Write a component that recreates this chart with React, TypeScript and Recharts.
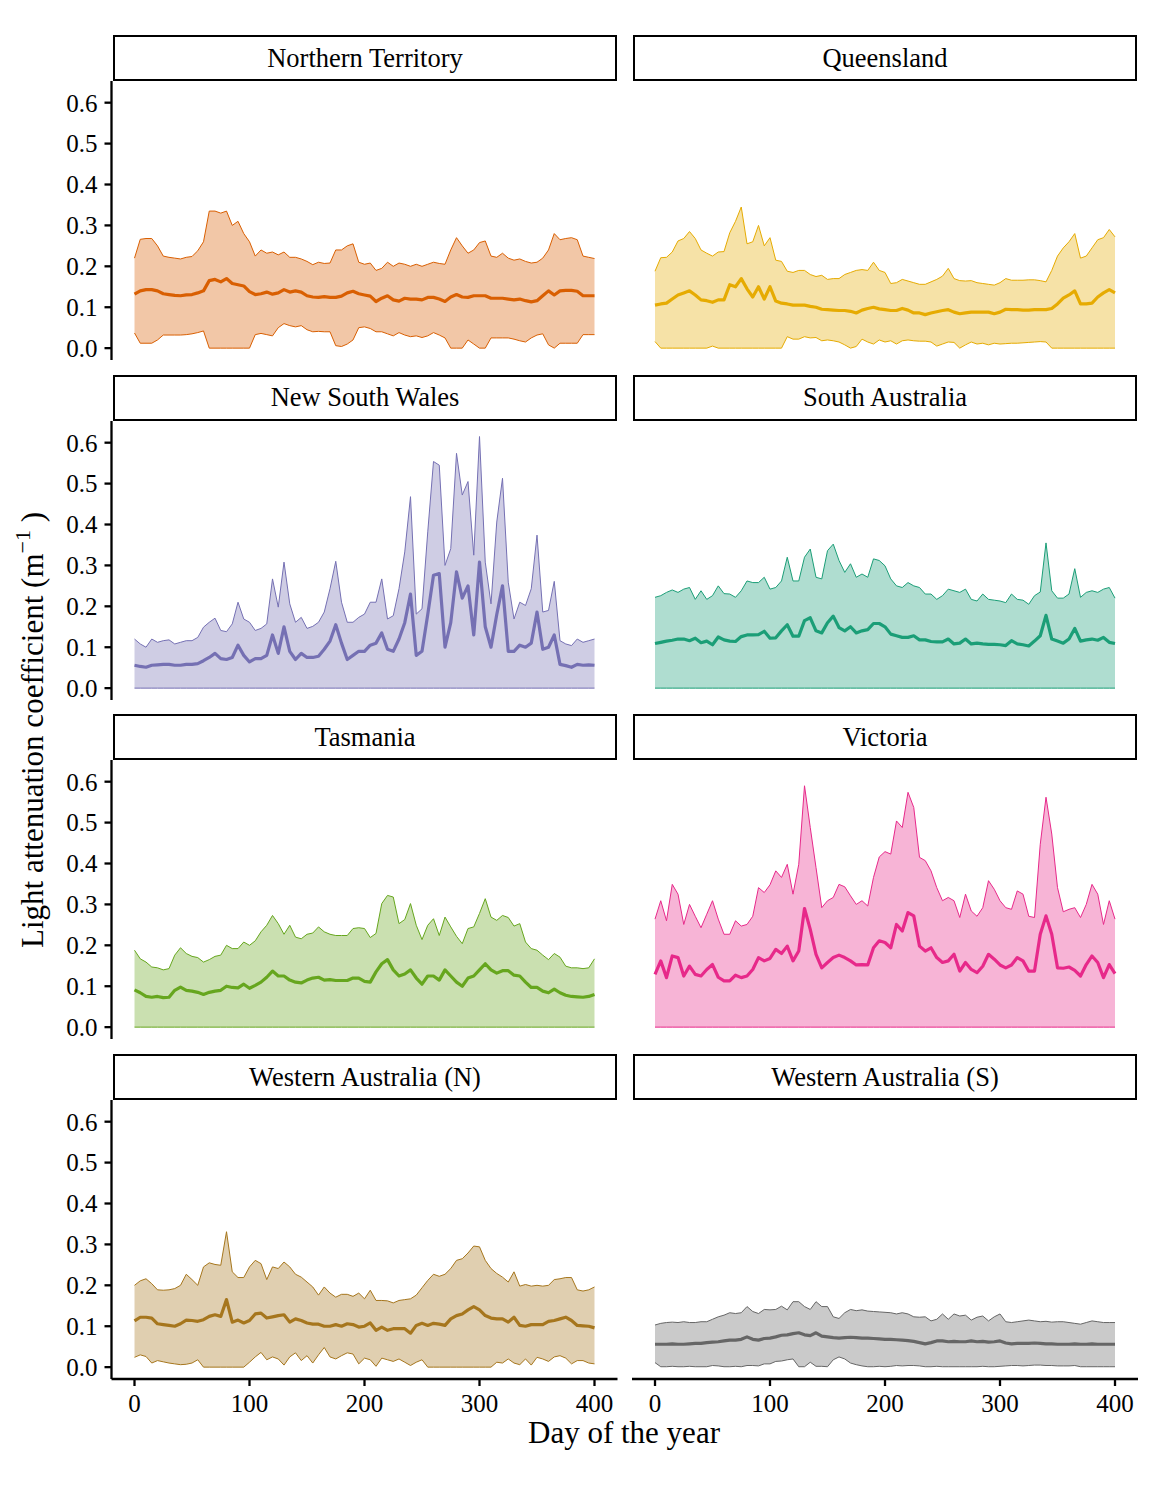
import React from 'react';
import { ComposedChart, Area, Line, XAxis, YAxis } from 'recharts';

const FONT = '"Liberation Serif", "Times New Roman", Times, serif';

// ---------------- data ----------------
const DAYS = [
  0, 5, 10, 15, 20, 25, 30, 35, 40, 45,
  50, 55, 60, 65, 70, 75, 80, 85, 90, 95,
  100, 105, 110, 115, 120, 125, 130, 135, 140, 145,
  150, 155, 160, 165, 170, 175, 180, 185, 190, 195,
  200, 205, 210, 215, 220, 225, 230, 235, 240, 245,
  250, 255, 260, 265, 270, 275, 280, 285, 290, 295,
  300, 305, 310, 315, 320, 325, 330, 335, 340, 345,
  350, 355, 360, 365, 370, 375, 380, 385, 390, 395,
  400,
];

const REGIONS = [
  'Northern Territory', 'Queensland', 'New South Wales', 'South Australia',
  'Tasmania', 'Victoria', 'Western Australia (N)', 'Western Australia (S)',
];
const COLORS = ['#D95F02', '#E6AB02', '#7570B3', '#1B9E77', '#66A61E', '#E7298A', '#A6761D', '#666666'];
const Y_TICKS = [0, 0.1, 0.2, 0.3, 0.4, 0.5, 0.6];
const X_TICKS = [0, 100, 200, 300, 400];

const ZERO_LOW = [
  0, 0, 0, 0, 0, 0, 0, 0, 0, 0,
  0, 0, 0, 0, 0, 0, 0, 0, 0, 0,
  0, 0, 0, 0, 0, 0, 0, 0, 0, 0,
  0, 0, 0, 0, 0, 0, 0, 0, 0, 0,
  0, 0, 0, 0, 0, 0, 0, 0, 0, 0,
  0, 0, 0, 0, 0, 0, 0, 0, 0, 0,
  0, 0, 0, 0, 0, 0, 0, 0, 0, 0,
  0, 0, 0, 0, 0, 0, 0, 0, 0, 0,
  0,
];

// Northern Territory
const NT_HIGH = [
  0.22, 0.266, 0.268, 0.268, 0.25, 0.225, 0.222, 0.22, 0.218, 0.222,
  0.224, 0.238, 0.26, 0.335, 0.335, 0.33, 0.335, 0.3, 0.31, 0.28,
  0.26, 0.225, 0.24, 0.232, 0.235, 0.228, 0.235, 0.222, 0.222, 0.218,
  0.212, 0.204, 0.21, 0.207, 0.208, 0.24, 0.24, 0.25, 0.255, 0.21,
  0.205, 0.208, 0.19, 0.195, 0.21, 0.2, 0.208, 0.205, 0.2, 0.205,
  0.2, 0.205, 0.21, 0.207, 0.205, 0.24, 0.27, 0.25, 0.232, 0.24,
  0.258, 0.262, 0.225, 0.222, 0.232, 0.22, 0.215, 0.218, 0.212, 0.208,
  0.21, 0.22, 0.24, 0.28, 0.265, 0.268, 0.27, 0.265, 0.225, 0.222,
  0.219,
];
const NT_MEAN = [
  0.132, 0.14, 0.143, 0.143, 0.14, 0.133, 0.131, 0.129, 0.128, 0.13,
  0.131, 0.135, 0.14, 0.165, 0.168, 0.162, 0.17, 0.158, 0.155, 0.152,
  0.138, 0.131, 0.133, 0.137, 0.132, 0.135, 0.143, 0.137, 0.14, 0.137,
  0.128, 0.125, 0.124, 0.126, 0.124, 0.124, 0.127, 0.135, 0.139, 0.133,
  0.13, 0.127, 0.114, 0.122, 0.128, 0.118, 0.115, 0.122, 0.12, 0.12,
  0.118, 0.124, 0.124, 0.12, 0.114, 0.125, 0.131, 0.125, 0.124, 0.128,
  0.128, 0.128, 0.122, 0.122, 0.122, 0.12, 0.118, 0.12, 0.116, 0.113,
  0.116, 0.128, 0.14, 0.13, 0.14, 0.141, 0.141, 0.139, 0.128, 0.128,
  0.128,
];
const NT_LOW = [
  0.037, 0.012, 0.012, 0.012, 0.02, 0.032, 0.032, 0.032, 0.032, 0.033,
  0.035, 0.038, 0.042, 0, 0, 0, 0, 0, 0, 0,
  0, 0.033, 0.036, 0.033, 0.03, 0.05, 0.06, 0.055, 0.052, 0.055,
  0.045, 0.04, 0.041, 0.04, 0.04, 0.006, 0.004, 0.01, 0.02, 0.05,
  0.052, 0.048, 0.04, 0.04, 0.035, 0.03, 0.038, 0.032, 0.028, 0.03,
  0.026, 0.03, 0.038, 0.032, 0.025, 0, 0, 0, 0.02, 0.01,
  0, 0, 0.025, 0.025, 0.025, 0.025, 0.022, 0.018, 0.015, 0.025,
  0.032, 0.035, 0.008, 0, 0.012, 0.012, 0.012, 0.012, 0.033, 0.033,
  0.033,
];

// Queensland
const QLD_HIGH = [
  0.188, 0.221, 0.222, 0.235, 0.262, 0.268, 0.285, 0.268, 0.24, 0.232,
  0.225, 0.235, 0.236, 0.282, 0.31, 0.345, 0.255, 0.26, 0.3, 0.25,
  0.27, 0.215, 0.212, 0.188, 0.185, 0.19, 0.19, 0.18, 0.175, 0.178,
  0.168, 0.17, 0.17, 0.18, 0.185, 0.19, 0.192, 0.19, 0.21, 0.19,
  0.185, 0.158, 0.16, 0.168, 0.164, 0.16, 0.156, 0.156, 0.162, 0.168,
  0.176, 0.195, 0.17, 0.165, 0.164, 0.165, 0.16, 0.158, 0.156, 0.154,
  0.16, 0.17, 0.166, 0.166, 0.166, 0.167, 0.167, 0.165, 0.162, 0.19,
  0.225, 0.245, 0.26, 0.28, 0.22, 0.225, 0.245, 0.265, 0.27, 0.29,
  0.272,
];
const QLD_MEAN = [
  0.105, 0.108, 0.11, 0.12, 0.13, 0.135, 0.14, 0.13, 0.118, 0.116,
  0.112, 0.118, 0.118, 0.155, 0.15, 0.17, 0.145, 0.125, 0.15, 0.12,
  0.15, 0.115, 0.11, 0.108, 0.105, 0.105, 0.105, 0.102, 0.1, 0.095,
  0.094, 0.093, 0.092, 0.092, 0.09, 0.086, 0.093, 0.097, 0.1, 0.096,
  0.094, 0.092, 0.092, 0.097, 0.093, 0.086, 0.086, 0.082, 0.086, 0.089,
  0.092, 0.094, 0.088, 0.084, 0.086, 0.088, 0.088, 0.088, 0.088, 0.084,
  0.088, 0.095, 0.094, 0.094, 0.093, 0.093, 0.094, 0.094, 0.094, 0.097,
  0.108, 0.122, 0.13, 0.14, 0.108, 0.108, 0.11, 0.125, 0.135, 0.143,
  0.135,
];
const QLD_LOW = [
  0.016, 0, 0, 0, 0, 0, 0, 0, 0, 0,
  0.005, 0, 0, 0, 0, 0, 0, 0, 0, 0,
  0, 0, 0, 0.028, 0.022, 0.022, 0.028, 0.025, 0.026, 0.018,
  0.02, 0.018, 0.015, 0.008, 0, 0.004, 0.022, 0.015, 0.01, 0.02,
  0.015, 0.018, 0.01, 0.018, 0.02, 0.018, 0.017, 0.017, 0.015, 0.005,
  0.01, 0.015, 0.014, 0, 0.008, 0.015, 0.01, 0.012, 0.008, 0.012,
  0.01, 0.011, 0.012, 0.012, 0.013, 0.014, 0.015, 0.016, 0.015, 0,
  0, 0, 0, 0, 0, 0, 0, 0, 0, 0,
  0,
];

// New South Wales
const NSW_HIGH = [
  0.12, 0.108, 0.1, 0.12, 0.112, 0.116, 0.118, 0.108, 0.112, 0.116,
  0.116, 0.124, 0.149, 0.161, 0.171, 0.141, 0.138, 0.157, 0.21, 0.169,
  0.161, 0.141, 0.146, 0.157, 0.267, 0.198, 0.308, 0.206, 0.161, 0.173,
  0.146, 0.151, 0.161, 0.186, 0.243, 0.31, 0.21, 0.161, 0.161, 0.173,
  0.181, 0.21, 0.21, 0.267, 0.169, 0.177, 0.243, 0.333, 0.468, 0.181,
  0.194, 0.382, 0.554, 0.545, 0.3, 0.341, 0.574, 0.472, 0.505, 0.325,
  0.615, 0.308, 0.206, 0.406, 0.513, 0.259, 0.169, 0.21, 0.202, 0.243,
  0.374, 0.186, 0.19, 0.261, 0.116, 0.108, 0.104, 0.12, 0.112, 0.116,
  0.12,
];
const NSW_MEAN = [
  0.056, 0.053, 0.051, 0.056, 0.057, 0.058, 0.058, 0.056, 0.056, 0.058,
  0.058, 0.06, 0.067, 0.075, 0.085, 0.072, 0.07, 0.075, 0.105, 0.08,
  0.064, 0.072, 0.072, 0.08, 0.13, 0.085, 0.15, 0.09, 0.07, 0.085,
  0.075, 0.075, 0.078, 0.095, 0.115, 0.155, 0.11, 0.07, 0.08, 0.09,
  0.09, 0.105, 0.11, 0.135, 0.095, 0.09, 0.12, 0.16, 0.23, 0.08,
  0.09, 0.18, 0.276, 0.28, 0.1, 0.16, 0.284, 0.22, 0.25, 0.13,
  0.308, 0.15, 0.1, 0.18, 0.25, 0.09, 0.09, 0.105, 0.1, 0.11,
  0.186, 0.095, 0.1, 0.13, 0.058, 0.055, 0.051, 0.058, 0.056, 0.057,
  0.056,
];

// South Australia
const SA_HIGH = [
  0.222, 0.226, 0.234, 0.24, 0.234, 0.242, 0.246, 0.217, 0.238, 0.217,
  0.226, 0.25, 0.231, 0.23, 0.222, 0.238, 0.262, 0.258, 0.258, 0.271,
  0.242, 0.246, 0.262, 0.32, 0.262, 0.262, 0.32, 0.34, 0.271, 0.267,
  0.336, 0.352, 0.312, 0.283, 0.304, 0.271, 0.279, 0.271, 0.316, 0.312,
  0.299, 0.267, 0.25, 0.246, 0.258, 0.25, 0.246, 0.23, 0.23, 0.217,
  0.226, 0.242, 0.238, 0.234, 0.242, 0.217, 0.213, 0.23, 0.217, 0.215,
  0.213, 0.209, 0.23, 0.217, 0.215, 0.205, 0.226, 0.235, 0.355, 0.238,
  0.22, 0.22, 0.23, 0.292, 0.222, 0.234, 0.238, 0.234, 0.242, 0.246,
  0.22,
];
const SA_MEAN = [
  0.109, 0.112, 0.115, 0.117, 0.12, 0.12, 0.116, 0.122, 0.111, 0.115,
  0.106, 0.125, 0.118, 0.115, 0.114, 0.126, 0.13, 0.13, 0.131, 0.139,
  0.122, 0.123, 0.14, 0.155, 0.127, 0.127, 0.165, 0.172, 0.14, 0.135,
  0.16, 0.176, 0.148, 0.14, 0.15, 0.135, 0.14, 0.143, 0.158, 0.158,
  0.15, 0.132, 0.128, 0.124, 0.124, 0.128, 0.118, 0.118, 0.114, 0.113,
  0.113, 0.12, 0.108, 0.11, 0.12, 0.108, 0.11, 0.108, 0.107, 0.107,
  0.106, 0.104, 0.116, 0.108, 0.106, 0.103, 0.115, 0.128, 0.178, 0.12,
  0.115, 0.11, 0.12, 0.146, 0.115, 0.118, 0.12, 0.117, 0.124, 0.112,
  0.109,
];

// Tasmania
const TAS_HIGH = [
  0.188, 0.167, 0.159, 0.147, 0.145, 0.14, 0.143, 0.176, 0.194, 0.18,
  0.173, 0.17, 0.159, 0.165, 0.173, 0.176, 0.2, 0.192, 0.192, 0.208,
  0.2, 0.211, 0.233, 0.249, 0.273, 0.253, 0.227, 0.249, 0.22, 0.216,
  0.227, 0.23, 0.245, 0.233, 0.227, 0.224, 0.224, 0.224, 0.241, 0.243,
  0.241, 0.219, 0.229, 0.302, 0.322, 0.318, 0.253, 0.263, 0.302, 0.249,
  0.214, 0.249, 0.265, 0.224, 0.269, 0.245, 0.222, 0.204, 0.241, 0.245,
  0.278, 0.314, 0.269, 0.261, 0.273, 0.268, 0.247, 0.253, 0.208, 0.192,
  0.188, 0.176, 0.165, 0.18, 0.171, 0.149, 0.145, 0.145, 0.143, 0.145,
  0.167,
];
const TAS_MEAN = [
  0.091, 0.084, 0.075, 0.073, 0.075, 0.072, 0.073, 0.09, 0.098, 0.09,
  0.088, 0.085, 0.08, 0.085, 0.088, 0.09, 0.1, 0.097, 0.096, 0.105,
  0.095, 0.102, 0.11, 0.122, 0.137, 0.125, 0.125, 0.115, 0.11, 0.108,
  0.115, 0.12, 0.122, 0.115, 0.116, 0.114, 0.114, 0.114, 0.12, 0.12,
  0.112, 0.11, 0.135, 0.155, 0.165, 0.14, 0.125, 0.13, 0.14, 0.12,
  0.105, 0.125, 0.125, 0.115, 0.14, 0.125, 0.11, 0.1, 0.12, 0.125,
  0.14, 0.155, 0.14, 0.132, 0.138, 0.138, 0.127, 0.125, 0.11, 0.097,
  0.097, 0.088, 0.084, 0.093, 0.084, 0.078, 0.075, 0.074, 0.073, 0.075,
  0.08,
];

// Victoria
const VIC_HIGH = [
  0.264, 0.309, 0.26, 0.349, 0.325, 0.251, 0.3, 0.271, 0.243, 0.276,
  0.309, 0.264, 0.227, 0.227, 0.26, 0.247, 0.251, 0.271, 0.341, 0.329,
  0.348, 0.382, 0.366, 0.398, 0.325, 0.398, 0.59, 0.488, 0.39, 0.292,
  0.309, 0.317, 0.349, 0.343, 0.321, 0.3, 0.309, 0.296, 0.366, 0.416,
  0.429, 0.423, 0.504, 0.488, 0.574, 0.537, 0.415, 0.407, 0.382, 0.341,
  0.309, 0.317, 0.309, 0.268, 0.325, 0.284, 0.271, 0.292, 0.358, 0.337,
  0.309, 0.292, 0.288, 0.333, 0.325, 0.271, 0.268, 0.447, 0.562, 0.472,
  0.341, 0.282, 0.288, 0.292, 0.268, 0.3, 0.349, 0.325, 0.251, 0.309,
  0.264,
];
const VIC_MEAN = [
  0.129, 0.162, 0.121, 0.174, 0.17, 0.125, 0.149, 0.129, 0.125, 0.141,
  0.153, 0.122, 0.113, 0.113, 0.127, 0.121, 0.125, 0.141, 0.17, 0.162,
  0.168, 0.19, 0.18, 0.198, 0.162, 0.186, 0.29, 0.239, 0.178, 0.145,
  0.158, 0.17, 0.176, 0.17, 0.162, 0.152, 0.153, 0.152, 0.194, 0.211,
  0.207, 0.194, 0.251, 0.235, 0.28, 0.272, 0.198, 0.186, 0.194, 0.17,
  0.158, 0.162, 0.178, 0.137, 0.158, 0.141, 0.133, 0.149, 0.178, 0.166,
  0.152, 0.145, 0.152, 0.17, 0.162, 0.137, 0.137, 0.227, 0.272, 0.227,
  0.145, 0.144, 0.147, 0.139, 0.125, 0.153, 0.174, 0.158, 0.121, 0.153,
  0.131,
];

// Western Australia (N)
const WAN_HIGH = [
  0.2, 0.211, 0.216, 0.204, 0.189, 0.188, 0.189, 0.192, 0.2, 0.227,
  0.214, 0.2, 0.245, 0.255, 0.251, 0.249, 0.331, 0.233, 0.219, 0.219,
  0.245, 0.261, 0.253, 0.214, 0.245, 0.241, 0.257, 0.245, 0.227, 0.22,
  0.208, 0.196, 0.176, 0.196, 0.181, 0.171, 0.178, 0.178, 0.173, 0.181,
  0.167, 0.188, 0.163, 0.163, 0.162, 0.157, 0.163, 0.165, 0.167, 0.176,
  0.194, 0.212, 0.227, 0.222, 0.227, 0.241, 0.261, 0.265, 0.279, 0.296,
  0.294, 0.261, 0.241, 0.229, 0.22, 0.208, 0.233, 0.198, 0.202, 0.198,
  0.2, 0.198, 0.2, 0.214, 0.216, 0.219, 0.219, 0.189, 0.186, 0.189,
  0.196,
];
const WAN_MEAN = [
  0.113, 0.122, 0.122, 0.12, 0.106, 0.104, 0.102, 0.1, 0.106, 0.115,
  0.114, 0.112, 0.116, 0.124, 0.128, 0.124, 0.165, 0.11, 0.115, 0.108,
  0.114, 0.13, 0.132, 0.12, 0.123, 0.126, 0.128, 0.11, 0.118, 0.114,
  0.108, 0.105, 0.105, 0.1, 0.1, 0.104, 0.1, 0.106, 0.104, 0.098,
  0.1, 0.108, 0.09, 0.098, 0.09, 0.094, 0.094, 0.094, 0.083, 0.102,
  0.107, 0.102, 0.107, 0.105, 0.102, 0.118, 0.126, 0.13, 0.14, 0.148,
  0.14, 0.126, 0.12, 0.118, 0.118, 0.11, 0.122, 0.102, 0.1, 0.104,
  0.104, 0.104, 0.112, 0.114, 0.118, 0.122, 0.114, 0.102, 0.101, 0.1,
  0.096,
];
const WAN_LOW = [
  0.024, 0.03, 0.026, 0.01, 0.016, 0.013, 0.01, 0.008, 0.006, 0.007,
  0.01, 0.018, 0, 0, 0, 0, 0, 0, 0, 0,
  0.012, 0.025, 0.036, 0.018, 0.025, 0.02, 0.005, 0.025, 0.035, 0.016,
  0.028, 0.01, 0.03, 0.048, 0.025, 0.02, 0.028, 0.035, 0.032, 0.008,
  0.022, 0.018, 0.002, 0.022, 0.018, 0.014, 0.02, 0.012, 0.004, 0.012,
  0.018, 0, 0, 0, 0, 0, 0, 0, 0, 0,
  0, 0, 0, 0.012, 0.01, 0.02, 0.01, 0.006, 0.02, 0.005,
  0.024, 0.02, 0.014, 0.025, 0.028, 0.022, 0.008, 0.016, 0.016, 0.01,
  0.008,
];

// Western Australia (S)
const WAS_HIGH = [
  0.103, 0.107, 0.109, 0.11, 0.109, 0.111, 0.109, 0.109, 0.111, 0.111,
  0.117, 0.123, 0.127, 0.133, 0.131, 0.133, 0.148, 0.136, 0.131, 0.141,
  0.14, 0.141, 0.149, 0.14, 0.16, 0.16, 0.148, 0.141, 0.16, 0.148,
  0.148, 0.123, 0.119, 0.133, 0.141, 0.138, 0.14, 0.137, 0.136, 0.135,
  0.134, 0.133, 0.13, 0.133, 0.13, 0.123, 0.122, 0.123, 0.113, 0.117,
  0.13, 0.117, 0.13, 0.125, 0.127, 0.115, 0.122, 0.125, 0.113, 0.123,
  0.13, 0.111, 0.109, 0.111, 0.113, 0.115, 0.113, 0.111, 0.112, 0.11,
  0.111, 0.111, 0.109, 0.107, 0.105, 0.109, 0.113, 0.111, 0.109, 0.109,
  0.109,
];
const WAS_MEAN = [
  0.056, 0.056, 0.056, 0.057, 0.056, 0.056, 0.057, 0.058, 0.058, 0.06,
  0.061, 0.062, 0.064, 0.066, 0.066, 0.068, 0.074, 0.068, 0.066, 0.07,
  0.071, 0.074, 0.078, 0.079, 0.082, 0.084, 0.079, 0.077, 0.084, 0.076,
  0.074, 0.072, 0.071, 0.072, 0.073, 0.072, 0.071, 0.071, 0.07, 0.069,
  0.068, 0.068, 0.067, 0.066, 0.065, 0.063, 0.06, 0.057, 0.06, 0.064,
  0.064, 0.062, 0.063, 0.062, 0.062, 0.064, 0.062, 0.063, 0.061, 0.062,
  0.064, 0.059, 0.057, 0.058, 0.058, 0.058, 0.059, 0.058, 0.057, 0.057,
  0.056, 0.056, 0.056, 0.057, 0.056, 0.056, 0.057, 0.056, 0.056, 0.056,
  0.056,
];
const WAS_LOW = [
  0.011, 0.001, 0.001, 0.002, 0.001, 0.001, 0.002, 0.001, 0.001, 0.001,
  0.004, 0.003, 0.001, 0.001, 0.002, 0.001, 0.004, 0.004, 0.003, 0.008,
  0.008, 0.014, 0.015, 0.018, 0.02, 0.001, 0.001, 0.012, 0.002, 0.002,
  0.001, 0.018, 0.025, 0.02, 0.01, 0.006, 0.003, 0.001, 0.001, 0.002,
  0.001, 0.002, 0.004, 0.003, 0.004, 0.004, 0.003, 0.001, 0.001, 0.002,
  0.001, 0.001, 0.001, 0.001, 0.001, 0.001, 0.001, 0.002, 0.001, 0.001,
  0.002, 0.003, 0.004, 0.004, 0.003, 0.004, 0.005, 0.005, 0.004, 0.004,
  0.003, 0.003, 0.003, 0.004, 0.001, 0.001, 0.001, 0.001, 0.001, 0.001,
  0.001,
];

const SERIES = [
  { low: NT_LOW, mean: NT_MEAN, high: NT_HIGH },
  { low: QLD_LOW, mean: QLD_MEAN, high: QLD_HIGH },
  { low: ZERO_LOW, mean: NSW_MEAN, high: NSW_HIGH },
  { low: ZERO_LOW, mean: SA_MEAN, high: SA_HIGH },
  { low: ZERO_LOW, mean: TAS_MEAN, high: TAS_HIGH },
  { low: ZERO_LOW, mean: VIC_MEAN, high: VIC_HIGH },
  { low: WAN_LOW, mean: WAN_MEAN, high: WAN_HIGH },
  { low: WAS_LOW, mean: WAS_MEAN, high: WAS_HIGH },
];

// ---------------- layout ----------------
const Y_AXIS_W = 111.5;
const LEFT_PLOT_X = 111.5;
const RIGHT_PLOT_X = 631.5;
const PLOT_W = 506;
const PLOT_H = 279;
const PANEL_TOP0 = 81;
const ROW_PITCH = 339.6;
const X_AXIS_H = 70;
const PAD_BOTTOM = 12;
const STRIP_H = 46;
const X_DOMAIN: [number, number] = [-20, 420];
const Y_DOMAIN: [number, number] = [-0.029, 0.653];

function buildRows(i: number) {
  const s = SERIES[i];
  return DAYS.map((day, k) => ({
    day,
    band: [s.low[k], s.high[k]],
    low: s.low[k],
    mean: s.mean[k],
    high: s.high[k],
  }));
}

const axisStroke = { stroke: '#000', strokeWidth: 2.3 };
const tickStyle = { fontSize: 25, fill: '#000', fontFamily: FONT };

function Panel({ index }: { index: number }) {
  const col = index % 2;
  const row = Math.floor(index / 2);
  const isLeft = col === 0;
  const isBottom = row === 3;
  const top = PANEL_TOP0 + row * ROW_PITCH;
  const axisW = isLeft ? Y_AXIS_W : 0;
  const left = (isLeft ? LEFT_PLOT_X : RIGHT_PLOT_X) - axisW;
  const width = PLOT_W + axisW;
  const bottomPad = isBottom ? 0 : PAD_BOTTOM;
  const height = PLOT_H + (isBottom ? X_AXIS_H : 0) + bottomPad;
  const color = COLORS[index];
  const data = buildRows(index);
  const stripLeft = isLeft ? 113 : 633;
  return (
    <>
      <div
        style={{
          position: 'absolute',
          left: stripLeft,
          top: 35 + row * ROW_PITCH,
          width: 504,
          height: STRIP_H,
          boxSizing: 'border-box',
          border: '2.2px solid #000',
          background: '#fff',
          display: 'flex',
          alignItems: 'center',
          justifyContent: 'center',
          fontFamily: FONT,
          fontSize: 26.5,
          color: '#000',
          lineHeight: 1,
        }}
      >
        {REGIONS[index]}
      </div>
      <div style={{ position: 'absolute', left, top, width, height }}>
        <ComposedChart
          width={width}
          height={height}
          data={data}
          margin={{ top: 0, right: 0, bottom: bottomPad, left: 0 }}
          style={{ overflow: 'visible' }}
        >
          <XAxis
            dataKey="day"
            type="number"
            domain={X_DOMAIN}
            allowDataOverflow
            ticks={X_TICKS}
            interval={0}
            hide={!isBottom}
            height={X_AXIS_H}
            tickSize={7}
            tickMargin={8}
            axisLine={axisStroke}
            tickLine={axisStroke}
            tick={tickStyle}
          />
          <YAxis
            type="number"
            domain={Y_DOMAIN}
            allowDataOverflow
            ticks={Y_TICKS}
            interval={0}
            hide={!isLeft}
            width={Y_AXIS_W}
            tickSize={7}
            tickMargin={7}
            axisLine={axisStroke}
            tickLine={axisStroke}
            tick={tickStyle}
            tickFormatter={(v: number) => v.toFixed(1)}
          />
          <Area
            dataKey="band"
            type="linear"
            stroke="none"
            fill={color}
            fillOpacity={0.35}
            isAnimationActive={false}
            activeDot={false}
          />
          <Line dataKey="low" type="linear" stroke={color} strokeWidth={1} dot={false} activeDot={false} isAnimationActive={false} />
          <Line dataKey="high" type="linear" stroke={color} strokeWidth={1} dot={false} activeDot={false} isAnimationActive={false} />
          <Line dataKey="mean" type="linear" stroke={color} strokeWidth={3.2} dot={false} activeDot={false} isAnimationActive={false} strokeLinejoin="round" />
        </ComposedChart>
      </div>
    </>
  );
}

export default function App() {
  return (
    <div
      style={{
        position: 'absolute',
        left: 0,
        top: 0,
        width: 1152,
        height: 1488,
        background: '#fff',
        overflow: 'hidden',
        fontFamily: FONT,
      }}
    >
      {REGIONS.map((_, i) => (
        <Panel key={i} index={i} />
      ))}
      <svg width={1152} height={1488} style={{ position: 'absolute', left: 0, top: 0, pointerEvents: 'none' }}>
        <text x={624} y={1443} textAnchor="middle" fontSize={31} fontFamily={FONT} fill="#000">
          Day of the year
        </text>
        <text transform="translate(43,730) rotate(-90)" textAnchor="middle" fontSize={31} fontFamily={FONT} fill="#000">
          Light attenuation coefficient (m
          <tspan dy={-13} fontSize={22}>−1</tspan>
          <tspan dy={13}> )</tspan>
        </text>
      </svg>
    </div>
  );
}
